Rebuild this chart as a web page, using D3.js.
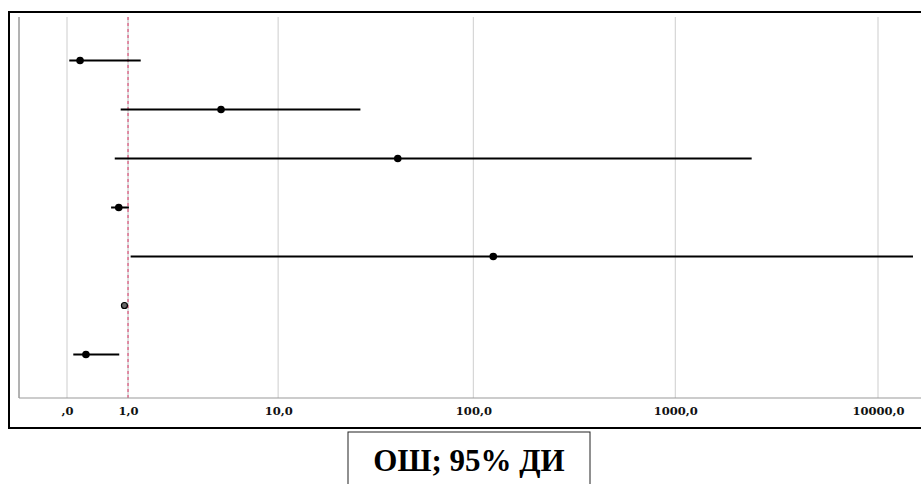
<!DOCTYPE html>
<html>
<head>
<meta charset="utf-8">
<script src="https://cdn.jsdelivr.net/npm/d3@7/dist/d3.min.js"></script>
<style>
  html, body { margin: 0; padding: 0; background: #fff; }
  svg { display: block; }
</style>
</head>
<body>
<script>
// Odds ratios with 95% confidence intervals, one row per predictor
const rows   = ["r1", "r2", "r3", "r4", "r5", "r6", "r7"];
const oddsRatio = [0.16, 4.75, 41.8, 0.80, 125.6, 0.92, 0.24];
const ciLower   = [0.026, 0.84, 0.72, 0.65, 1.06, 0.90, 0.074];
const ciUpper   = [1.31, 27.0, 2381, 1.02, 14879, 0.95, 0.81];
const tickValues = [0, 1, 10, 100, 1000, 10000];
const referenceValue = 1;
const axisTitle = "ОШ; 95% ДИ";

const W = 921, H = 484;
const frame = { left: 9, top: 12, bottom: 428 };
const plot  = { left: 19, right: 930, top: 17, bottom: 398 };

const svg = d3.select("body").append("svg")
  .attr("width", W).attr("height", H);

// Safe-log axis: position follows log(1 + x)
const x = d3.scaleSymlog().constant(1)
  .domain([0, 10000])
  .range([67, 878]);

const y = d3.scalePoint()
  .domain(rows)
  .range([plot.top, plot.bottom])
  .padding(0.888);

const fmt = v => {
  let s = d3.format(".1f")(v).replace(".", ",");
  if (s.startsWith("0,")) s = s.slice(1);
  return s;
};

// Vertical grid lines
svg.append("g").selectAll("line")
  .data(tickValues)
  .join("line")
  .attr("x1", d => x(d)).attr("x2", d => x(d))
  .attr("y1", plot.top).attr("y2", plot.bottom)
  .attr("stroke", "#d6d6d6").attr("stroke-width", 1.2);

// Left axis line
svg.append("line")
  .attr("x1", plot.left).attr("x2", plot.left)
  .attr("y1", plot.top).attr("y2", plot.bottom)
  .attr("stroke", "#666").attr("stroke-width", 1);

// Reference line at OR = 1
svg.append("line")
  .attr("x1", x(referenceValue)).attr("x2", x(referenceValue))
  .attr("y1", plot.top).attr("y2", plot.bottom)
  .attr("stroke", "#dcdcdc").attr("stroke-width", 1.5);
svg.append("line")
  .attr("x1", x(referenceValue)).attr("x2", x(referenceValue))
  .attr("y1", plot.top).attr("y2", plot.bottom)
  .attr("stroke", "#de6f8f").attr("stroke-width", 1.5)
  .attr("stroke-dasharray", "3,3");

// Bottom axis with tick labels
const axis = d3.axisBottom(x)
  .tickValues(tickValues)
  .tickFormat(fmt)
  .tickSize(0)
  .tickPadding(9);
const gx = svg.append("g")
  .attr("transform", `translate(0,${plot.bottom})`)
  .call(axis);
gx.select(".domain").remove();
gx.append("line")
  .attr("x1", plot.left).attr("x2", plot.right)
  .attr("y1", 0).attr("y2", 0)
  .attr("stroke", "#999").attr("stroke-width", 1);
gx.selectAll("text")
  .attr("fill", "#111")
  .style("font-family", "'DejaVu Serif', serif")
  .style("font-weight", "bold")
  .style("font-size", "11.5px");

// Confidence interval whiskers
const data = rows.map((r, i) => ({ r, or: oddsRatio[i], lo: ciLower[i], hi: ciUpper[i] }));
svg.append("g").selectAll("line")
  .data(data)
  .join("line")
  .attr("x1", d => x(d.lo)).attr("x2", d => x(d.hi))
  .attr("y1", d => y(d.r)).attr("y2", d => y(d.r))
  .attr("stroke", "#000").attr("stroke-width", 2);

// Point estimates
svg.append("g").selectAll("circle")
  .data(data)
  .join("circle")
  .attr("cx", d => x(d.or)).attr("cy", d => y(d.r))
  .attr("r", d => d.r === "r6" ? 3 : 3.8)
  .attr("fill", d => d.r === "r6" ? "#666" : "#000")
  .attr("stroke", "#000")
  .attr("stroke-width", d => d.r === "r6" ? 1.2 : 0);

// Outer frame
svg.append("path")
  .attr("d", `M${W + 5},${frame.top} H${frame.left} V${frame.bottom} H${W + 5}`)
  .attr("fill", "none").attr("stroke", "#000").attr("stroke-width", 2);

// Axis title box
svg.append("rect")
  .attr("x", 348).attr("y", 432)
  .attr("width", 242).attr("height", 70)
  .attr("fill", "#fff").attr("stroke", "#222").attr("stroke-width", 1);
svg.append("text")
  .attr("x", 469).attr("y", 471)
  .attr("text-anchor", "middle")
  .style("font-family", "'Liberation Serif', 'Times New Roman', serif")
  .style("font-weight", "bold")
  .style("font-size", "31px")
  .attr("fill", "#000")
  .text(axisTitle);
</script>
</body>
</html>
